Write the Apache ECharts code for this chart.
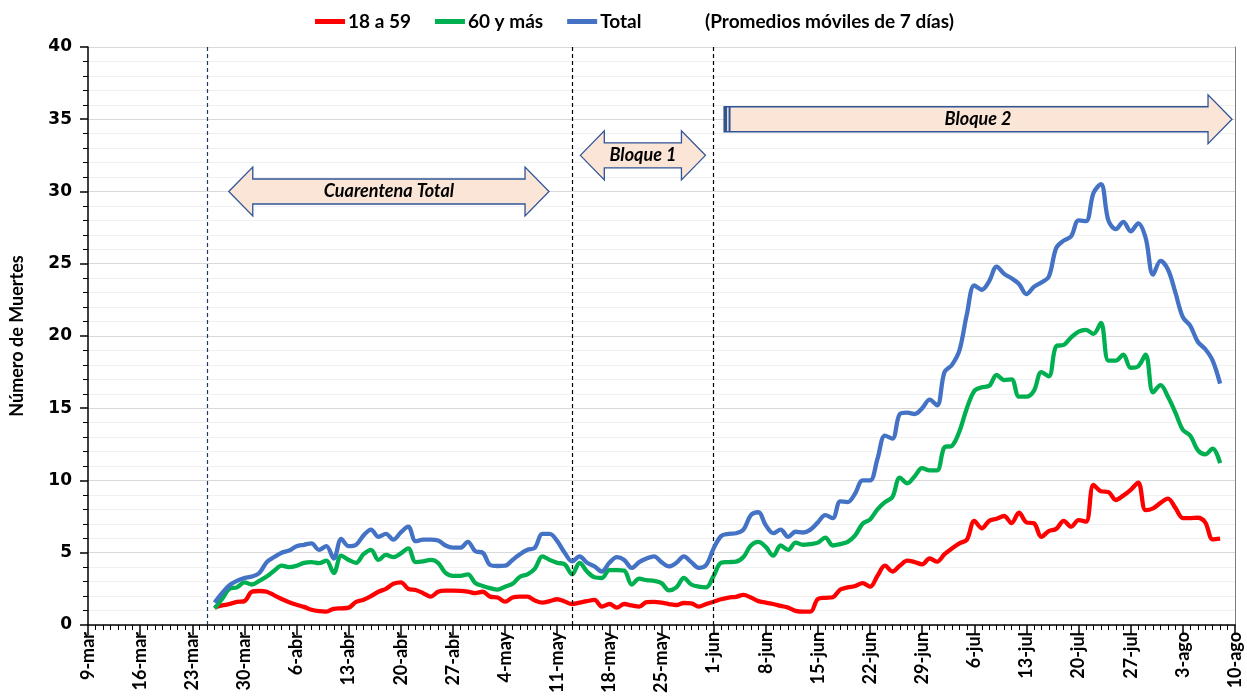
<!DOCTYPE html>
<html>
<head>
<meta charset="utf-8">
<script src="https://cdn.jsdelivr.net/npm/echarts@6/dist/echarts.min.js"></script>
<style>html,body{margin:0;padding:0;background:#fff}#c{width:1247px;height:696px}</style>
</head>
<body>
<div id="c"></div>
<script>
// ---- data ----
const tickLabels = ['9-mar','16-mar','23-mar','30-mar','6-abr','13-abr','20-abr','27-abr','4-may','11-may','18-may','25-may','1-jun','8-jun','15-jun','22-jun','29-jun','6-jul','13-jul','20-jul','27-jul','3-ago','10-ago'];
const firstDay = 17; // 26-mar, days counted from 9-mar
const seriesNames = ['18 a 59', '60 y más', 'Total'];
const edad18a59 = [
1.22,1.35,1.45,1.6,1.65,2.3,2.35,2.3,2.05,1.8,
1.58,1.4,1.25,1.05,0.95,0.92,1.12,1.15,1.2,1.6,
1.75,2.0,2.3,2.5,2.85,2.95,2.5,2.42,2.2,1.96,
2.3,2.37,2.37,2.36,2.3,2.2,2.3,1.96,1.9,1.61,
1.9,1.96,1.96,1.7,1.55,1.65,1.78,1.62,1.45,1.54,
1.65,1.73,1.27,1.45,1.2,1.45,1.35,1.27,1.58,1.6,
1.54,1.45,1.38,1.52,1.5,1.27,1.45,1.61,1.78,1.9,
1.95,2.08,1.9,1.65,1.55,1.45,1.32,1.2,0.98,0.92,
0.92,1.8,1.88,1.92,2.45,2.6,2.7,2.9,2.65,3.4,
4.1,3.7,4.1,4.45,4.35,4.2,4.6,4.38,4.9,5.3,
5.65,5.9,7.2,6.69,7.2,7.35,7.54,7.05,7.77,7.1,
7.04,6.1,6.5,6.65,7.2,6.8,7.25,7.15,9.69,9.25,
9.2,8.65,8.95,9.35,9.85,7.95,8.07,8.45,8.75,8.1,
7.4,7.4,7.42,7.1,5.93,5.98];
const edad60mas = [
1.15,1.8,2.5,2.6,2.95,2.8,3.05,3.35,3.75,4.1,
4.0,4.1,4.3,4.35,4.28,4.45,3.6,4.8,4.5,4.3,
4.9,5.2,4.5,4.85,4.7,4.95,5.3,4.35,4.4,4.5,
4.3,3.6,3.4,3.4,3.5,2.9,2.7,2.55,2.45,2.65,
2.85,3.34,3.5,3.9,4.75,4.5,4.3,4.2,3.5,4.3,
3.7,3.3,3.25,3.8,3.8,3.76,2.8,3.2,3.1,3.05,
2.9,2.4,2.6,3.25,2.8,2.65,2.6,3.4,4.3,4.35,
4.38,4.7,5.5,5.75,5.4,4.8,5.5,5.2,5.7,5.55,
5.6,5.7,6.05,5.5,5.6,5.75,6.2,7.0,7.3,8.0,
8.5,8.85,10.2,9.8,10.3,10.85,10.7,10.7,12.3,12.4,
13.4,15.0,16.2,16.45,16.55,17.3,16.95,17.0,15.8,15.8,
16.2,17.5,17.2,19.3,19.38,19.9,20.3,20.42,20.15,20.9,
18.3,18.3,18.7,17.8,17.9,18.7,16.1,16.6,15.8,14.7,
13.5,13.1,12.1,11.8,12.2,11.2];
const total = [
1.55,2.2,2.75,3.05,3.25,3.35,3.6,4.35,4.7,5.0,
5.15,5.45,5.55,5.65,5.2,5.45,4.6,5.95,5.45,5.55,
6.2,6.6,6.1,6.3,5.9,6.4,6.8,5.8,5.9,5.9,
5.85,5.5,5.35,5.35,5.75,5.1,5.0,4.15,4.08,4.1,
4.5,4.9,5.2,5.35,6.3,6.3,5.8,5.0,4.4,4.75,
4.3,4.05,3.7,4.3,4.7,4.5,3.95,4.35,4.6,4.75,
4.35,4.05,4.3,4.75,4.35,3.95,4.15,5.3,6.15,6.3,
6.35,6.6,7.6,7.8,6.9,6.35,6.6,6.1,6.45,6.4,
6.6,7.1,7.6,7.4,8.55,8.5,9.1,10.0,10.0,11.5,
13.1,12.9,14.6,14.7,14.6,15.0,15.6,15.2,17.5,18.0,
19.0,21.5,23.5,23.2,23.8,24.8,24.3,23.99,23.6,22.9,
23.4,23.7,24.1,26.1,26.6,26.9,28.0,27.95,29.9,30.5,
28.0,27.4,27.9,27.25,27.8,26.8,24.25,25.2,24.6,23.0,
21.3,20.7,19.6,19.1,18.3,16.7];
const phaseDays = [16, 65, 84]; // 25-mar, 13-may, 1-jun
const annotLabels = ['Cuarentena Total', 'Bloque 1', 'Bloque 2'];
const annotFrom = [18.9, 66.1, 85.4];
const annotTo = [61.9, 82.9, 153.6];
const annotY = [30.0, 32.5, 35.0];
const annotKind = ['both', 'both', 'right'];

// ---- chart ----
const toPairs = arr => arr.map((v, i) => [firstDay + i, v]);
const colors = ['#FF0000', '#00B050', '#4472C4'];
const lbl = 'Lato, "Open Sans", sans-serif';

function renderArrow(params, api) {
  const i = params.dataIndex;
  const a = api.coord([api.value(0), api.value(2)]);
  const b = api.coord([api.value(1), api.value(2)]);
  const x1 = a[0], x2 = b[0], cy = a[1];
  const bh = 12.5, hh = 24.5, hl = 24;
  let pts;
  if (annotKind[i] === 'both') {
    pts = [[x1,cy],[x1+hl,cy-hh],[x1+hl,cy-bh],[x2-hl,cy-bh],[x2-hl,cy-hh],[x2,cy],[x2-hl,cy+hh],[x2-hl,cy+bh],[x1+hl,cy+bh],[x1+hl,cy+hh]];
  } else {
    pts = [[x1,cy-bh],[x2-hl,cy-bh],[x2-hl,cy-hh],[x2,cy],[x2-hl,cy+hh],[x2-hl,cy+bh],[x1,cy+bh]];
  }
  const children = [{
    type: 'polygon', shape: { points: pts },
    style: { fill: '#FBE5D6', stroke: '#2F5597', lineWidth: 1.3 }
  }];
  if (annotKind[i] === 'right') {
    children.push({ type: 'rect', shape: { x: x1, y: cy-bh, width: 3, height: 2*bh }, style: { fill: '#2F5597' } });
    children.push({ type: 'rect', shape: { x: x1+4.5, y: cy-bh, width: 2, height: 2*bh }, style: { fill: '#2F5597' } });
  }
  children.push({
    type: 'text',
    style: { text: annotLabels[i], x: (x1+x2)/2, y: cy, align: 'center', verticalAlign: 'middle',
      font: 'italic bold 18px ' + lbl, fill: '#000' }
  });
  return { type: 'group', children };
}

const chart = echarts.init(document.getElementById('c'), null, { renderer: 'canvas' });
const lineSeries = [edad18a59, edad60mas, total].map((arr, k) => ({
  name: seriesNames[k], type: 'line', data: toPairs(arr), smooth: 0.35,
  showSymbol: false, symbol: 'none', lineStyle: { width: 4.3, color: colors[k] }, itemStyle: { color: colors[k] },
  z: 3 + k, animation: false
}));
lineSeries[0].markLine = {
  silent: true, symbol: 'none', animation: false, label: { show: false },
  data: phaseDays.map((d, j) => ({ xAxis: d, lineStyle: { color: j === 0 ? '#1F3864' : '#000', type: [4, 3], width: 1.2 } }))
};

chart.setOption({
  animation: false,
  grid: { left: 88, right: 12, top: 47, bottom: 71, containLabel: false },
  legend: {
    data: seriesNames, left: 310, top: 7, icon: 'rect', itemWidth: 30, itemHeight: 5, itemGap: 24,
    textStyle: { fontFamily: lbl, fontWeight: 'bold', fontSize: 19, color: '#000', padding: [0, 0, 0, -2] }
  },
  title: { text: '(Promedios móviles de 7 días)', left: 700, top: 7,
    textStyle: { fontFamily: lbl, fontWeight: 'bold', fontSize: 19, color: '#000' } },
  xAxis: {
    type: 'value', min: 0, max: 154, interval: 7,
    axisLine: { lineStyle: { color: '#000', width: 1.5 } },
    axisTick: { show: true, length: 10, lineStyle: { color: '#000', width: 1.5 } },
    minorTick: { show: true, splitNumber: 7, length: 5, lineStyle: { color: '#000', width: 1 } },
    splitLine: { show: false },
    axisLabel: { rotate: 90, margin: 7, fontFamily: lbl, fontWeight: 'bold', fontSize: 18, color: '#000',
      formatter: v => tickLabels[Math.round(v / 7)] || '' }
  },
  yAxis: [{
    type: 'value', min: 0, max: 40, interval: 5,
    name: 'Número de Muertes', nameLocation: 'middle', nameGap: 62, nameRotate: 90,
    nameTextStyle: { fontFamily: lbl, fontWeight: 'bold', fontSize: 18, color: '#000' },
    axisLine: { show: true, lineStyle: { color: '#000', width: 1.5 } },
    axisTick: { show: true, length: 8, lineStyle: { color: '#000', width: 1.5 } },
    minorTick: { show: true, splitNumber: 5, length: 5, lineStyle: { color: '#000' } },
    splitLine: { show: true, lineStyle: { color: '#D9D9D9', width: 1 } },
    minorSplitLine: { show: true, lineStyle: { color: '#F0F0F0', width: 1 } },
    axisLabel: { fontFamily: '"DejaVu Sans", sans-serif', fontWeight: 'bold', fontSize: 17, color: '#000', margin: 16 }
  }, {
    type: 'value', min: 0, max: 40, position: 'right',
    axisLine: { show: true, lineStyle: { color: '#7F7F7F', width: 1 } },
    axisTick: { show: false }, axisLabel: { show: false }, splitLine: { show: false }
  }],
  series: [...lineSeries, {
    type: 'custom', name: 'anotaciones', renderItem: renderArrow, clip: false, z: 10,
    encode: { x: [0, 1], y: 2 }, silent: true,
    data: annotLabels.map((_, i) => [annotFrom[i], annotTo[i], annotY[i]])
  }]
});
</script>
</body>
</html>
